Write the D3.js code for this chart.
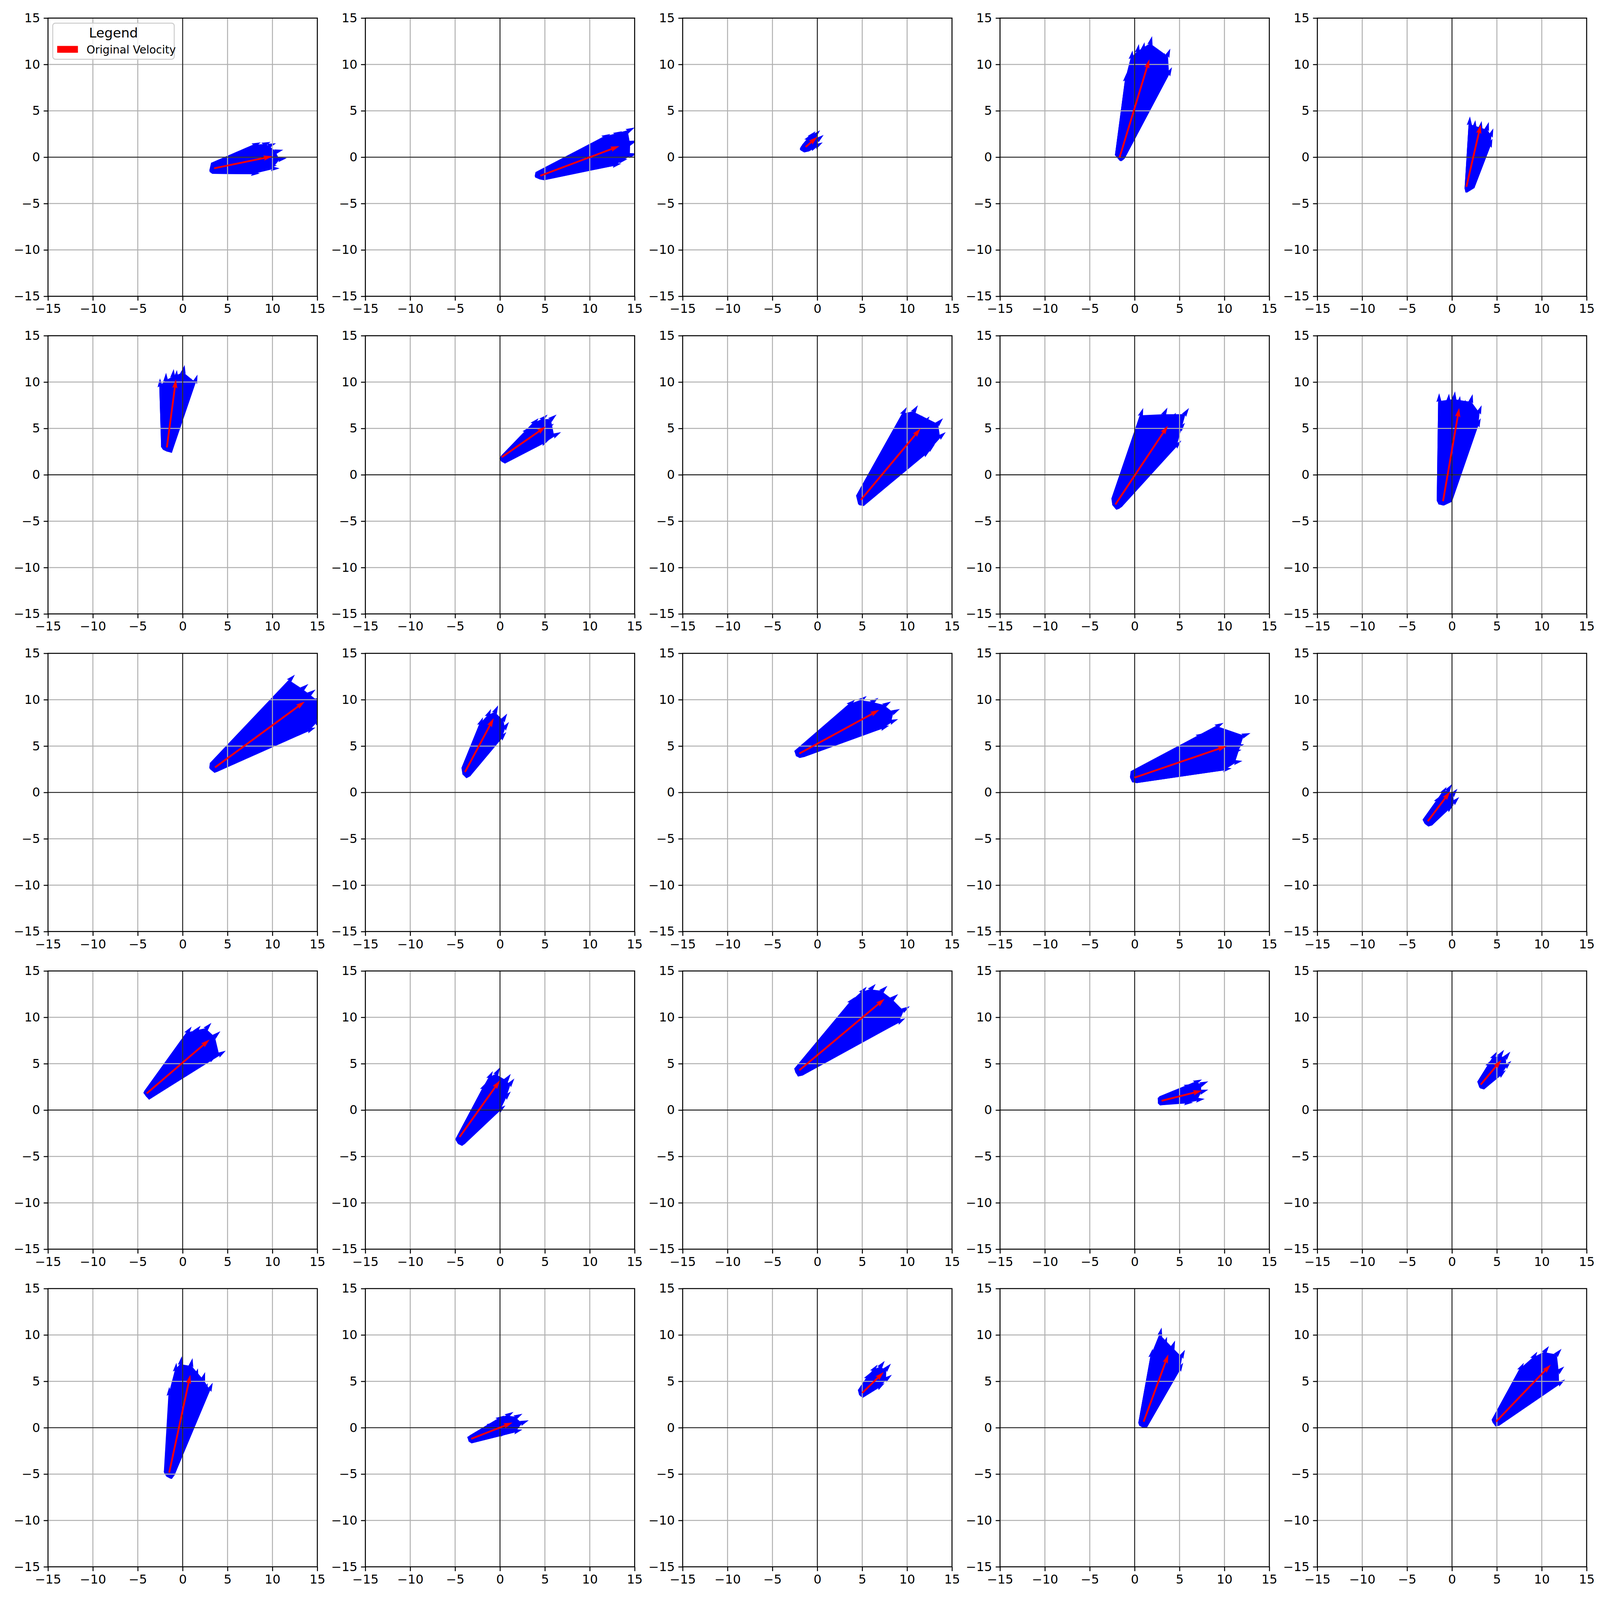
<!DOCTYPE html>
<html lang="en">
<head>
<meta charset="utf-8">
<title>Velocity perturbations</title>
<script src="https://cdn.jsdelivr.net/npm/d3@7"></script>
<style>
  html, body { margin: 0; padding: 0; background: #fff; overflow: hidden; }
  svg { display: block; width: 100vw; height: 100vh; }
  text { font-family: "DejaVu Sans", sans-serif; }
</style>
</head>
<body>
<script>
// tick values shared by every panel
var ticks = [-15, -10, -5, 0, 5, 10, 15];

// original velocity per panel: [tailX, tailY, tipX, tipY]
var redArrows = [
  [3.5, -1.2, 10.0, 0.1], [4.5, -2.0, 13.3, 1.2], [-1.3, 1.1, 0.0, 2.2], [-1.67, 0.0, 1.64, 10.55], [1.6, -3.2, 3.2, 3.5],
  [-1.76, 2.95, -0.75, 10.3], [0.2, 1.9, 5.1, 5.2], [4.85, -2.7, 11.5, 5.0], [-2.15, -3.2, 3.7, 5.3], [-1.0, -2.85, 0.8, 7.2],
  [3.6, 2.7, 13.6, 9.8], [-3.9, 2.2, -0.7, 8.0], [-2.0, 4.2, 6.9, 8.9], [0.0, 1.6, 10.25, 5.0], [-2.7, -3.1, -0.2, 0.1],
  [-4.0, 1.8, 3.0, 7.6], [-4.5, -2.9, 0.0, 3.2], [-2.0, 4.3, 7.5, 12.0], [3.0, 1.0, 7.5, 2.1], [3.2, 2.75, 5.5, 5.4],
  [-1.5, -4.85, 0.85, 5.7], [-3.2, -1.2, 1.4, 0.55], [5.0, 3.75, 7.4, 6.0], [1.0, 0.65, 3.75, 7.9], [4.9, 0.65, 11.0, 6.8]
];

// perturbed velocities per panel: [tailX, tailY, tipX, tipY]
var blueArrows = [
  [[3.2,-0.7,8.7,1.6],[3.4,-0.9,9.8,1.65],[3.3,-1.0,10.4,1.5],[3.6,-1.1,11.2,0.8],[3.5,-1.3,11.6,-0.1],
   [3.0,-1.4,10.8,-1.2],[3.3,-1.7,8.6,-1.75],[3.0,-1.5,10.0,-0.5],[3.7,-1.2,10.5,-0.9],[3.1,-1.2,9.5,0.6]],
  [[4.0,-1.7,12.3,2.5],[4.3,-1.8,13.6,2.8],[4.6,-1.9,15.0,3.2],[4.2,-2.0,15.3,1.8],[4.8,-2.1,15.3,0.4],
   [4.4,-2.3,13.5,-0.7],[4.9,-2.4,10.5,-0.8],[3.9,-2.1,12.8,0.8],[4.6,-2.2,14.2,-0.2],[4.1,-1.9,11.5,1.5]],
  [[-1.8,1.0,-0.6,2.5],[-1.6,1.3,-0.2,2.8],[-1.4,1.2,0.3,2.9],[-1.2,0.9,0.7,2.4],[-1.0,0.7,0.6,1.6],
   [-1.5,0.6,0.2,1.3],[-1.9,0.8,-0.3,1.8],[-1.3,1.0,0.1,2.0]],
  [[-2.1,0.2,-0.88,9.1],[-1.9,0.0,-0.24,11.5],[-1.7,-0.2,0.47,12.2],[-1.5,0.1,1.1,12.4],[-1.4,-0.3,1.94,13.05],
   [-1.3,0.2,2.62,11.6],[-1.6,-0.4,3.36,11.25],[-1.2,-0.1,3.97,11.7],[-1.15,0.0,4.16,9.7],[-1.8,0.1,2.4,9.8]],
  [[1.5,-3.4,2.0,4.4],[1.7,-3.0,2.6,4.0],[1.9,-3.6,3.3,3.9],[2.1,-3.2,4.1,3.8],[2.3,-2.9,4.6,3.1],
   [2.4,-3.3,4.5,2.0],[1.6,-3.8,2.2,1.8],[2.0,-2.7,3.5,2.6]],
  [[-2.3,3.0,-2.53,10.4],[-2.1,2.7,-1.85,11.0],[-1.9,3.1,-1.0,11.4],[-1.7,2.5,-0.14,11.2],[-1.5,2.9,0.22,11.85],
   [-1.3,2.4,0.99,10.4],[-1.2,2.8,1.65,10.8],[-1.6,2.6,-0.64,11.3]],
  [[0.0,1.7,3.4,5.2],[0.2,2.0,4.3,6.1],[0.4,2.1,5.3,6.5],[0.6,1.9,6.3,6.5],[0.7,1.6,6.8,4.6],
   [0.5,1.3,5.5,3.8],[0.1,1.5,4.2,4.4],[0.3,1.8,6.0,5.5]],
  [[4.4,-2.3,9.95,7.3],[4.6,-2.2,11.2,7.5],[4.9,-2.4,11.7,6.4],[5.1,-2.6,12.5,6.3],[5.2,-2.9,14.0,6.1],
   [4.9,-3.1,14.3,4.6],[4.6,-3.2,13.4,4.1],[5.1,-3.3,13.1,3.3],[5.0,-3.0,12.6,2.7],[4.5,-2.7,10.8,5.5]],
  [[-2.5,-2.6,0.95,7.2],[-2.2,-2.5,1.3,5.3],[-2.0,-2.8,2.9,6.5],[-1.8,-2.9,3.65,7.25],[-1.6,-3.1,4.6,6.7],
   [-1.5,-3.4,6.05,7.2],[-1.8,-3.6,5.6,5.6],[-2.1,-3.7,5.2,3.7],[-2.4,-3.3,0.7,4.1]],
  [[-1.6,-2.8,-1.43,8.8],[-1.4,-3.2,-0.33,8.75],[-1.2,-3.0,0.34,9.0],[-1.0,-3.3,0.9,8.5],[-0.7,-3.1,1.5,8.1],
   [-0.6,-2.9,2.3,8.7],[-0.9,-3.1,3.3,7.5],[-1.0,-2.8,3.2,6.1],[-0.1,-2.9,0.4,8.0],[-0.8,-2.75,2.55,6.4]],
  [[3.1,3.1,12.5,12.7],[3.4,3.0,14.0,11.7],[3.7,2.9,14.8,11.1],[3.9,2.6,15.7,10.4],[3.8,2.3,15.8,9.0],
   [3.5,2.2,15.6,7.9],[3.2,2.5,14.8,7.0],[3.0,2.6,12.8,6.4],[3.5,2.7,13.2,10.5]],
  [[-4.2,2.6,-1.9,8.1],[-3.9,2.9,-1.0,9.0],[-3.7,2.4,-0.2,9.4],[-3.5,2.1,0.8,8.5],[-3.4,1.8,1.0,7.6],
   [-3.8,1.6,0.7,6.5],[-4.1,1.9,-0.6,7.0]],
  [[-2.5,4.4,4.2,10.0],[-2.2,4.6,5.5,10.4],[-1.9,4.3,6.8,10.2],[-1.6,4.1,8.2,9.8],[-1.5,3.9,9.2,9.0],
   [-2.0,3.8,9.0,7.9],[-2.4,4.0,8.0,7.2],[-1.8,4.5,6.0,8.0]],
  [[-0.4,2.2,7.8,6.4],[-0.2,2.3,9.9,7.5],[0.1,2.1,9.9,6.8],[0.2,1.8,12.9,6.4],[0.0,1.4,12.2,5.2],
   [-0.3,1.2,12.0,3.4],[0.2,1.1,10.8,2.6],[-0.5,1.6,11.9,4.6]],
  [[-3.2,-3.0,-1.2,-0.3],[-2.9,-2.8,-0.6,0.6],[-2.6,-2.9,0.0,0.9],[-2.4,-3.2,0.6,0.4],[-2.3,-3.5,0.8,-0.5],
   [-2.7,-3.6,0.2,-1.3],[-3.0,-3.4,-0.8,-1.0]],
  [[-4.2,2.0,1.0,9.0],[-4.0,2.2,2.0,9.1],[-3.8,2.0,3.2,9.4],[-3.6,1.8,4.2,8.5],[-3.5,1.5,4.8,6.4],
   [-3.8,1.2,3.8,5.9],[-4.1,1.5,2.3,6.3],[-4.3,1.8,0.3,7.4]],
  [[-4.9,-3.2,-1.5,3.0],[-4.6,-2.9,-0.8,4.2],[-4.4,-3.0,0.0,4.6],[-4.2,-3.3,1.2,3.9],[-4.0,-3.6,1.6,3.4],
   [-4.3,-3.8,1.2,2.0],[-4.7,-3.6,0.6,0.5],[-4.5,-3.4,-0.7,1.8]],
  [[-2.5,4.4,4.2,12.2],[-2.3,4.6,5.5,13.3],[-2.0,4.7,6.5,13.6],[-1.8,4.4,7.8,13.4],[-1.6,4.1,9.0,12.5],
   [-1.7,3.8,10.3,11.2],[-2.2,3.7,9.8,9.9],[-2.4,4.0,7.5,10.2]],
  [[2.6,1.2,5.5,2.2],[2.8,1.4,6.5,2.8],[3.0,1.3,7.5,3.3],[3.2,1.0,8.2,3.1],[3.1,0.7,8.2,2.2],
   [2.8,0.6,7.8,1.2],[2.6,0.8,6.5,0.8]],
  [[2.9,3.0,4.5,5.5],[3.1,3.2,5.0,6.3],[3.3,3.1,5.8,6.5],[3.6,2.9,6.5,6.3],[3.8,2.6,6.6,5.3],
   [3.5,2.3,6.0,4.3],[3.1,2.4,5.0,4.3]],
  [[-1.4,-4.7,-1.5,4.4],[-1.9,-5.0,-0.7,7.0],[-2.0,-4.8,-0.1,7.7],[-1.7,-5.3,1.1,7.5],[-1.3,-5.5,1.7,6.4],
   [-1.0,-5.1,2.5,6.0],[-1.1,-4.8,2.8,4.8],[-1.5,-5.2,3.35,4.85]],
  [[-3.6,-1.1,-0.5,0.6],[-3.3,-0.9,0.5,1.3],[-3.0,-1.0,1.5,1.7],[-2.8,-1.2,2.5,1.5],[-2.9,-1.5,3.2,0.8],
   [-3.2,-1.6,2.5,-0.2],[-3.5,-1.4,1.0,-0.5]],
  [[4.6,4.0,6.0,6.0],[4.8,4.2,6.7,6.8],[5.1,4.1,7.5,7.2],[5.4,3.9,8.2,6.9],[5.3,3.5,8.3,5.7],
   [5.0,3.3,7.5,4.8],[4.7,3.5,6.5,4.9]],
  [[0.5,0.5,2.0,8.5],[0.7,0.9,3.0,10.8],[0.9,1.1,3.6,9.8],[1.2,0.8,4.5,9.4],[1.4,0.5,5.6,8.4],
   [1.3,0.1,5.4,7.0],[0.9,0.0,4.5,5.8],[0.6,0.2,3.0,7.0]],
  [[4.5,0.8,8.0,7.0],[4.7,1.0,9.5,8.2],[5.0,1.1,10.8,8.8],[5.3,0.9,12.2,8.5],[5.5,0.6,12.5,6.6],
   [5.2,0.3,12.6,5.2],[4.8,0.2,11.0,4.8],[4.6,0.5,9.0,5.8]]
];

var legendTitle = "Legend";
var legendLabel = "Original Velocity";

// layout (pixels)
var W = 5400, H = 5400;
var pw = 909, ph = 939;
var left0 = 162, top0 = 61, stepX = 1071, stepY = 1072;
var shaft = 6;   // quiver shaft width

var svg = d3.select("body").append("svg")
  .attr("viewBox", "0 0 " + W + " " + H)
  .attr("preserveAspectRatio", "xMidYMid meet");
svg.append("rect").attr("width", W).attr("height", H).attr("fill", "#fff");

var x = d3.scaleLinear().domain([-15, 15]).range([0, pw]);
var y = d3.scaleLinear().domain([-15, 15]).range([ph, 0]);

// quiver-like arrow polygon in pixel space
function arrowPoints(x0, y0, x1, y1, w) {
  var dx = x1 - x0, dy = y1 - y0, L = Math.hypot(dx, dy);
  var ux = dx / L, uy = dy / L, nx = -uy, ny = ux;
  var l = L / w;
  var shape = [[0,-0.5],[l-4.5,-0.5],[l-5,-1.5],[l,0],[l-5,1.5],[l-4.5,0.5],[0,0.5]];
  return shape.map(function(p) {
    return [x0 + (ux * p[0] + nx * p[1]) * w, y0 + (uy * p[0] + ny * p[1]) * w];
  });
}

// shaft corners, used to fill the dense body of the bundle
function shaftPoints(x0, y0, x1, y1, w) {
  var pts = arrowPoints(x0, y0, x1, y1, w);
  return [pts[0], pts[1], pts[5], pts[6]];
}

var line = d3.line();

redArrows.forEach(function(red, i) {
  var r = Math.floor(i / 5), c = i % 5;
  var g = svg.append("g")
    .attr("transform", "translate(" + (left0 + c * stepX) + "," + (top0 + r * stepY) + ")");

  g.append("clipPath").attr("id", "clip" + i)
    .append("rect").attr("width", pw).attr("height", ph);

  var plot = g.append("g").attr("clip-path", "url(#clip" + i + ")");

  // blue bundle
  var blues = blueArrows[i];
  var hullPts = [];
  blues.forEach(function(b) {
    hullPts = hullPts.concat(shaftPoints(x(b[0]), y(b[1]), x(b[2]), y(b[3]), shaft));
  });
  var hull = d3.polygonHull(hullPts);
  plot.append("path")
    .attr("d", line(hull) + "Z")
    .attr("fill", "#0000ff");
  plot.selectAll(".blue")
    .data(blues)
    .enter().append("path")
    .attr("class", "blue")
    .attr("d", function(b) { return line(arrowPoints(x(b[0]), y(b[1]), x(b[2]), y(b[3]), shaft)) + "Z"; })
    .attr("fill", "#0000ff");

  // grid
  plot.selectAll(".gx").data(ticks).enter().append("line")
    .attr("x1", function(d) { return x(d); }).attr("x2", function(d) { return x(d); })
    .attr("y1", 0).attr("y2", ph)
    .attr("stroke", "#b0b0b0").attr("stroke-width", 3.3);
  plot.selectAll(".gy").data(ticks).enter().append("line")
    .attr("y1", function(d) { return y(d); }).attr("y2", function(d) { return y(d); })
    .attr("x1", 0).attr("x2", pw)
    .attr("stroke", "#b0b0b0").attr("stroke-width", 3.3);

  // zero lines
  plot.append("line").attr("x1", 0).attr("x2", pw).attr("y1", y(0)).attr("y2", y(0))
    .attr("stroke", "#000").attr("stroke-width", 2.5);
  plot.append("line").attr("x1", x(0)).attr("x2", x(0)).attr("y1", 0).attr("y2", ph)
    .attr("stroke", "#000").attr("stroke-width", 2.5);

  // original velocity
  plot.append("path")
    .attr("d", line(arrowPoints(x(red[0]), y(red[1]), x(red[2]), y(red[3]), shaft)) + "Z")
    .attr("fill", "#ff0000");

  // axes
  var ax = g.append("g").attr("transform", "translate(0," + ph + ")")
    .call(d3.axisBottom(x).tickValues(ticks).tickSize(14.6).tickPadding(12).tickSizeOuter(0));
  var ay = g.append("g")
    .call(d3.axisLeft(y).tickValues(ticks).tickSize(14.6).tickPadding(12).tickSizeOuter(0));
  [ax, ay].forEach(function(a) {
    a.select(".domain").remove();
    a.selectAll(".tick line").attr("stroke", "#000").attr("stroke-width", 3.3);
    a.selectAll(".tick text").attr("fill", "#000").attr("font-size", 42)
      .attr("font-family", "DejaVu Sans");
  });

  // spines
  g.append("rect").attr("width", pw).attr("height", ph)
    .attr("fill", "none").attr("stroke", "#000").attr("stroke-width", 3.3);

  if (i === 0) {
    var lg = g.append("g");
    lg.append("rect")
      .attr("x", 16).attr("y", 17).attr("width", 410).attr("height", 122)
      .attr("rx", 9).attr("ry", 9)
      .attr("fill", "#fff").attr("fill-opacity", 0.8)
      .attr("stroke", "#cccccc").attr("stroke-width", 3.3);
    lg.append("text")
      .attr("x", 221).attr("y", 66)
      .attr("text-anchor", "middle").attr("font-size", 45)
      .text(legendTitle);
    lg.append("rect")
      .attr("x", 31).attr("y", 94).attr("width", 70).attr("height", 23)
      .attr("fill", "#ff0000");
    lg.append("text")
      .attr("x", 130).attr("y", 119)
      .attr("font-size", 37)
      .text(legendLabel);
  }
});
</script>
</body>
</html>
